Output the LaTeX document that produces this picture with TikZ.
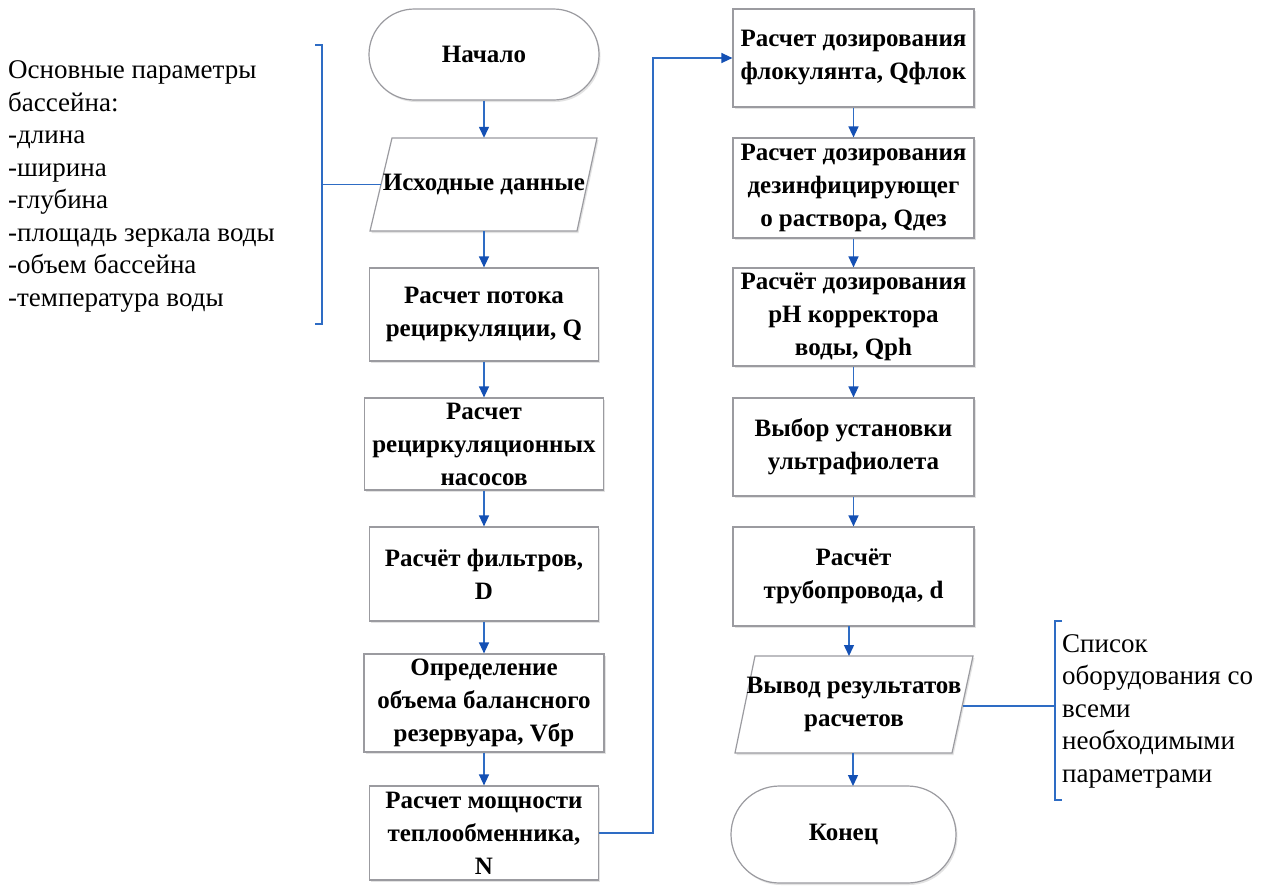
\documentclass[tikz,border=0pt]{standalone}
\usepackage{fontspec}
\setmainfont{Liberation Serif}
\usetikzlibrary{shapes.misc,arrows.meta,shadows,calc}
\definecolor{boxgray}{RGB}{155,155,160}
\definecolor{flowblue}{RGB}{46,108,196}
\definecolor{headblue}{RGB}{20,80,180}
\begin{document}
\begin{tikzpicture}[x=1pt,y=-1pt,
  boxtext/.style={align=center, font=\fontsize{25}{33}\selectfont\bfseries, inner sep=0pt},
  shade/.style={drop shadow={opacity=0.22, shadow xshift=1.5pt, shadow yshift=-2pt}},
  procbox/.style={boxtext, draw=boxgray, line width=1.2pt, fill=white, shade},
  termbox/.style={boxtext, rounded rectangle, draw=boxgray, line width=1.2pt, fill=white, shade},
  iobox/.style={boxtext},
  iodraw/.style={draw=boxgray, line width=1.2pt, fill=white, shade},
  flowarrow/.style={draw=flowblue, line width=1.4pt, -{Triangle[length=11pt,width=10pt,color=headblue,fill=headblue]}},
  bracket/.style={draw=flowblue, line width=1.2pt},
  note/.style={align=left, font=\fontsize{27}{32.5}\selectfont, inner sep=0pt, anchor=west}]
\useasboundingbox (0,0) rectangle (1262,887);
\fill[white] (0,0) rectangle (1262,887);

% left column
\node[termbox, minimum width=230pt, minimum height=91pt] (start) at (484,54.5) {Начало};
\path[iodraw] (392,138) -- (597,138) -- (577,231) -- (370,231) -- cycle;
\node[iobox, minimum width=227pt, minimum height=93pt] (inp) at (484,184.5) {Исходные данные};
\node[procbox, minimum width=229pt, minimum height=93pt] (b1) at (484,314.5) {Расчет потока\\рециркуляции, Q};
\node[procbox, minimum width=239pt, minimum height=92pt] (b2) at (484,444) {Расчет\\рециркуляционных\\насосов};
\node[procbox, minimum width=229pt, minimum height=94pt] (b3) at (484,574) {Расчёт фильтров,\\D};
\node[procbox, minimum width=240pt, minimum height=98pt] (b4) at (484,703) {Определение\\объема балансного\\резервуара, Vбр};
\node[procbox, minimum width=229pt, minimum height=94pt] (b5) at (484,833) {Расчет мощности\\теплообменника,\\N};

% right column
\node[procbox, minimum width=241pt, minimum height=98pt] (r1) at (853.5,58) {Расчет дозирования\\флокулянта, Qфлок};
\node[procbox, minimum width=241pt, minimum height=100pt] (r2) at (853.5,188) {Расчет дозирования\\дезинфицирующег\\о раствора, Qдез};
\node[procbox, minimum width=241pt, minimum height=98pt] (r3) at (853.5,317) {Расчёт дозирования\\pH корректора\\воды, Qph};
\node[procbox, minimum width=241pt, minimum height=98pt] (r4) at (853.5,447) {Выбор установки\\ультрафиолета};
\node[procbox, minimum width=241pt, minimum height=99pt] (r5) at (853.5,576.5) {Расчёт\\трубопровода, d};
\path[iodraw] (755,656) -- (973,656) -- (952,753) -- (735,753) -- cycle;
\node[iobox, minimum width=238pt, minimum height=97pt] (out) at (854,704.5) {Вывод результатов\\расчетов};
\node[termbox, minimum width=225pt, minimum height=97pt] (end) at (843.5,834.5) {Конец};

% flow arrows
\draw[flowarrow] (start.south) -- (inp.north);
\draw[flowarrow] (inp.south) -- (b1.north);
\draw[flowarrow] (b1.south) -- (b2.north);
\draw[flowarrow] (b2.south) -- (b3.north);
\draw[flowarrow] (b3.south) -- (b4.north);
\draw[flowarrow] (b4.south) -- (b5.north);
\coordinate (turn) at (653,833);
\draw[flowarrow] (b5.east) -- (turn) |- (r1.west);
\draw[flowarrow] (r1.south) -- (r2.north);
\draw[flowarrow] (r2.south) -- (r3.north);
\draw[flowarrow] (r3.south) -- (r4.north);
\draw[flowarrow] (r4.south) -- (r5.north);
\coordinate (r5s) at (849,626);
\coordinate (outn) at (849,656);
\draw[flowarrow] (r5s) -- (outn);
\coordinate (outs) at (853,753);
\coordinate (endn) at (853,786);
\draw[flowarrow] (outs) -- (endn);

% left annotation
\node[note] (params) at (8,186.5) {Основные параметры\\бассейна:\\-длина\\-ширина\\-глубина\\-площадь зеркала воды\\-объем бассейна\\-температура воды};
\coordinate (lbt) at (322,45);
\coordinate (lbb) at (322,324);
\coordinate (lbm) at (322,184.5);
\coordinate (inpl) at (381,184.5);
\draw[bracket] (315,45) -- (lbt) -- (lbb) -- (315,324);
\draw[bracket] (lbm) -- (inpl);

% right annotation
\node[note] (list) at (1062,711) {Список\\оборудования со\\всеми\\необходимыми\\параметрами};
\coordinate (rbt) at (1055,621);
\coordinate (rbb) at (1055,800);
\coordinate (rbm) at (1055,706);
\coordinate (outr) at (962.5,706);
\draw[bracket] (1062,621) -- (rbt) -- (rbb) -- (1062,800);
\draw[bracket] (outr) -- (rbm);
\end{tikzpicture}
\end{document}
